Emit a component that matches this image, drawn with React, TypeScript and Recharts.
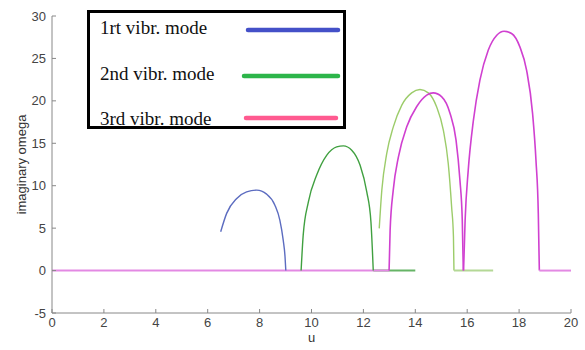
import React from 'react';
import { LineChart, Line, XAxis, YAxis } from 'recharts';

// ---- data ----
const xTicks = [0, 2, 4, 6, 8, 10, 12, 14, 16, 18, 20];
const yTicks = [-5, 0, 5, 10, 15, 20, 25, 30];

const mode1U = [6.5, 6.73, 7.12, 7.5, 7.89, 8.27, 8.59, 8.78, 8.91, 8.98, 9.01];
const mode1V = [4.57, 6.74, 8.5, 9.28, 9.48, 9.01, 7.71, 5.95, 3.59, 1.63, 0];

const mode2aU = [9.6, 9.68, 9.88, 10.2, 10.59, 10.97, 11.23, 11.55, 11.87, 12.13, 12.29, 12.38];
const mode2aV = [0, 4.18, 8.1, 11.25, 13.6, 14.58, 14.7, 14.19, 12.43, 9.28, 5.75, 0];
const mode2aZeroU = [12.38, 14.0];
const mode2aZeroV = [0, 0];

const mode2bU = [12.61, 12.71, 12.9, 13.15, 13.48, 13.86, 14.18, 14.5, 14.82, 15.08, 15.27, 15.4, 15.47, 15.49];
const mode2bV = [4.97, 9.48, 13.8, 16.9, 19.5, 20.94, 21.34, 20.94, 19.3, 16.55, 12.6, 7.5, 3.98, 0];
const mode2bZeroU = [15.49, 17.0];
const mode2bZeroV = [0, 0];

const mode3BaseU = [0, 13.0];
const mode3BaseV = [0, 0];
const mode3aU = [12.99, 13.03, 13.15, 13.35, 13.67, 14.05, 14.44, 14.69, 15.02, 15.34, 15.57, 15.72, 15.81, 15.85];
const mode3aV = [0, 4.77, 9.48, 13.4, 16.94, 19.3, 20.67, 20.94, 20.47, 18.52, 15.37, 10.66, 5.95, 0];
const mode3bU = [15.86, 15.92, 16.04, 16.24, 16.49, 16.81, 17.14, 17.42, 17.71, 18.03, 18.29, 18.52, 18.65, 18.74, 18.78];
const mode3bV = [0, 5.95, 11.84, 17.73, 22.44, 25.97, 27.74, 28.21, 27.94, 26.36, 23.6, 18.5, 13.0, 6.74, 0];
const mode3ZeroU = [18.78, 20];
const mode3ZeroV = [0, 0];

const legendLabels = ['1rt vibr. mode', '2nd vibr. mode', '3rd vibr. mode'];
const legendColors = ['#4450c8', '#2db54a', '#ff5a90'];

const pts = (us: number[], vs: number[]) => us.map((u, i) => ({ u, v: vs[i] }));

const W = 585;
const H = 350;

const series = [
  { id: 'm2az', data: pts(mode2aZeroU, mode2aZeroV), color: '#66b466', w: 2 },
  { id: 'm3base', data: pts(mode3BaseU, mode3BaseV), color: '#e389e3', w: 2 },
  { id: 'm1', data: pts(mode1U, mode1V), color: '#5c6cc0', w: 1.4 },
  { id: 'm2a', data: pts(mode2aU, mode2aV), color: '#40a040', w: 1.4 },
  { id: 'm2b', data: pts(mode2bU, mode2bV), color: '#9ccc6a', w: 1.4 },
  { id: 'm2bz', data: pts(mode2bZeroU, mode2bZeroV), color: '#b4d896', w: 2 },
  { id: 'm3a', data: pts(mode3aU, mode3aV), color: '#d040d0', w: 1.6 },
  { id: 'm3b', data: pts(mode3bU, mode3bV), color: '#d040d0', w: 1.6 },
  { id: 'm3z', data: pts(mode3ZeroU, mode3ZeroV), color: '#e389e3', w: 2 },
];

const tickStyle = { fontFamily: 'Liberation Sans, Arial, sans-serif', fontSize: 13, fill: '#444' };

const YLabel = (props: any) => {
  const vb = props.viewBox || {};
  const cx = 21;
  const cy = vb.y + vb.height / 2;
  return (
    <text
      x={cx}
      y={cy}
      transform={`rotate(-90 ${cx} ${cy})`}
      textAnchor="middle"
      dominantBaseline="central"
      style={{ fontFamily: 'Liberation Sans, Arial, sans-serif', fontSize: 13, fill: '#333' }}
    >
      imaginary omega
    </text>
  );
};

export default function App() {
  return (
    <div style={{ position: 'absolute', left: 0, top: 0, width: W, height: H, background: '#fff' }}>
      <LineChart width={W} height={H} margin={{ top: 16, right: 14, bottom: 0, left: 0 }}>
        <XAxis
          type="number"
          dataKey="u"
          domain={[0, 20]}
          ticks={xTicks}
          allowDataOverflow
          height={37}
          tickSize={-4}
          tickMargin={9}
          stroke="#888"
          tick={tickStyle}
          label={{ value: 'u', position: 'insideBottom', offset: 8, style: { fontFamily: 'Liberation Sans, Arial, sans-serif', fontSize: 13, fill: '#333' } }}
        />
        <YAxis
          type="number"
          dataKey="v"
          domain={[-5, 30]}
          ticks={yTicks}
          allowDataOverflow
          width={52}
          tickSize={-4}
          tickMargin={10}
          stroke="#888"
          tick={tickStyle}
          label={<YLabel />}
        />
        {series.map((s) => (
          <Line
            key={s.id}
            data={s.data}
            dataKey="v"
            type="monotone"
            stroke={s.color}
            strokeWidth={s.w}
            dot={false}
            activeDot={false}
            isAnimationActive={false}
          />
        ))}
      </LineChart>
      <svg width={W} height={H} style={{ position: 'absolute', left: 0, top: 0, pointerEvents: 'none' }}>
        <rect x={88.5} y={11.5} width={256} height={116} fill="#fff" stroke="#000" strokeWidth={3} />
        {legendLabels.map((lab, i) => (
          <g key={lab}>
            <text
              x={100}
              y={[34, 80, 125][i]}
              style={{ fontFamily: 'Liberation Serif, Times New Roman, serif', fontSize: 19, fill: '#111' }}
            >
              {lab}
            </text>
            <line
              x1={[248, 244, 246][i]}
              x2={[338, 338, 336][i]}
              y1={[30, 76, 118][i]}
              y2={[30, 76, 118][i]}
              stroke={legendColors[i]}
              strokeWidth={4.5}
              strokeLinecap="round"
            />
          </g>
        ))}
        <rect x={88.5} y={11.5} width={256} height={116} fill="none" stroke="#000" strokeWidth={3} />
      </svg>
    </div>
  );
}
